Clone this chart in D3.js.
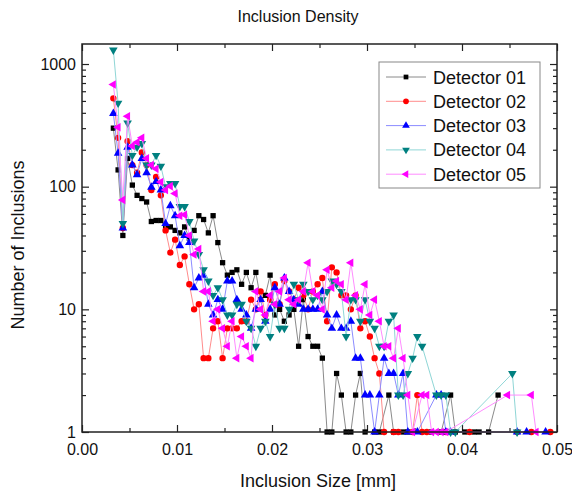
<!DOCTYPE html>
<html><head><meta charset="utf-8">
<script src="https://cdn.jsdelivr.net/npm/d3@7/dist/d3.min.js"></script>
<style>body{margin:0;background:#fff} text{font-family:"Liberation Sans",Arial,sans-serif;fill:#111}</style>
</head><body><svg id="c" width="572" height="491"></svg>
<script>
// ---- data ----
const sizes = [
0.0033,0.0038,0.0043,0.0048,0.0053,0.0058,0.0063,0.0068,0.0073,0.0078,
0.0083,0.0088,0.0093,0.0098,0.0103,0.0108,0.0113,0.0118,0.0123,0.0128,
0.0133,0.0138,0.0143,0.0148,0.0153,0.0158,0.0163,0.0168,0.0173,0.0178,
0.0183,0.0188,0.0193,0.0198,0.0203,0.0208,0.0213,0.0218,0.0223,0.0228,
0.0233,0.0238,0.0243,0.0248,0.0253,0.0258,0.0263,0.0268,0.0273,0.0278,
0.0283,0.0288,0.0293,0.0298,0.0303,0.0308,0.0313,0.0318,0.0323,0.0328,
0.0333,0.0338,0.0343,0.0348,0.0353,0.0358,0.0363,0.0368,0.0373,0.0378,
0.0383,0.0388,0.0393,0.0398,0.0403,0.0408,0.0413,0.0418,0.0423,0.0428,
0.0433,0.0438,0.0443,0.0448,0.0453,0.0458,0.0463,0.0468,0.0473,0.0478,
0.0483,0.0488,0.0493];
const seriesNames = ["Detector 01","Detector 02","Detector 03","Detector 04","Detector 05"];
const det01 = [
300,137,40,170,103,85,80,75,52,53,
53,46,47,44,42,47,38,44,58,54,
42,58,35,24,19,20,21,16,20,15,
20,12,13,19,9,10,8,9,10,5,
12,6,5,5,4,1,1,3,2,1,
1,2,3,1,null,1,1,null,2,1,
null,1,1,null,null,null,null,1,null,1,
null,2,1,null,1,null,1,1,null,1,
null,2,null,null,null,null,null,null,null,null,
null,null,null];
const det02 = [
525,250,46,235,150,130,190,150,94,120,
85,44,29,37,23,27,16,10,11,4,
4,7,8,4,7,7,7,8,8,12,
10,14,9,12,16,11,17,14,12,15,
13,10,14,16,18,8,22,20,13,13,
10,13,7,8,6,4,3,1,null,1,
1,null,null,1,2,1,1,null,null,null,
1,null,null,null,null,1,null,null,null,null,
null,null,null,null,null,1,null,null,1,null,
null,null,1];
const det03 = [
395,187,46,210,150,125,170,130,99,110,
94,50,70,58,33,40,35,15,18,19,
11,9,12,10,17,17,12,10,9,7,
10,12,8,10,15,11,18,14,12,11,
10,10,10,10,14,9,7,9,7,7,
8,4,4,2,2,1,2,4,3,3,
2,3,1,null,1,null,null,null,2,2,
1,1,null,null,null,null,null,null,null,null,
null,null,null,null,null,1,null,1,null,null,
null,1,null];
const det04 = [
1300,480,50,330,180,210,225,150,150,180,
147,100,106,106,69,69,52,36,28,21,
17,13,15,12,9,9,11,11,8,7,
5,7,8,6,11,7,7,10,16,12,
16,14,12,13,12,14,17,16,14,6,
12,12,8,12,8,7,5,5,8,9,
2,2,3,4,6,5,null,null,2,2,
2,1,1,null,null,null,null,null,null,null,
null,null,null,null,3,1,null,null,null,null,
null,null,null];
const det05 = [
680,305,78,375,215,230,250,170,150,140,
109,94,101,88,58,59,40,28,31,14,
14,8,10,7,5,8,4,6,5,4,
14,10,9,13,11,14,18,12,11,12,
14,24,14,13,10,21,15,17,16,12,
24,13,10,16,9,12,8,5,5,4,
7,4,2,1,null,2,2,1,1,1,
1,null,null,null,null,null,null,null,null,null,
null,null,null,2,null,null,null,null,2,1,
null,null,null];
const xTicks = [0,0.01,0.02,0.03,0.04,0.05];
const xTickLabels = ["0.00","0.01","0.02","0.03","0.04","0.05"];
const yTicks = [1,10,100,1000];
const yTickLabels = ["1","10","100","1000"];

const allSeries = [det01,det02,det03,det04,det05];
const markColors = ["#000000","#ff0000","#0000ff","#008080","#ff00ff"];
const lineColors = ["#8a8a8a","#ff8c8c","#8c8cff","#8fd6d6","#ff8cff"];

// ---- layout ----
const svg = d3.select("#c");
const L=82, R=557, T=44, B=432;
const x = d3.scaleLinear().domain([0,0.05]).range([L,R]);
const y = d3.scaleLog().domain([1,1456]).range([B,T]);

svg.append("text").attr("x",298).attr("y",22).attr("text-anchor","middle")
  .style("font-size","16px").text("Inclusion Density");

// minor ticks
const xMinor = d3.range(0,0.0501,0.005).filter(v=>Math.abs(v/0.01-Math.round(v/0.01))>0.1);
const yMinor = [];
[1,10,100,1000].forEach(d=>{for(let m=2;m<=9;m++){const v=d*m; if(v<1456) yMinor.push(v);}});

function styleAxis(g){g.select(".domain").remove(); g.selectAll("line").attr("stroke","#222").attr("stroke-width",1.2);}

svg.append("g").attr("transform",`translate(0,${B})`)
  .call(d3.axisBottom(x).tickValues(xTicks).tickFormat((d,i)=>xTickLabels[i]).tickSizeInner(-7).tickSizeOuter(0).tickPadding(12))
  .call(styleAxis).selectAll("text").style("font-size","16px").attr("font-family","Liberation Sans, Arial, sans-serif").attr("fill","#111");
svg.append("g").attr("transform",`translate(0,${B})`)
  .call(d3.axisBottom(x).tickValues(xMinor).tickFormat("").tickSizeInner(-4).tickSizeOuter(0)).call(styleAxis);
svg.append("g").attr("transform",`translate(0,${T})`)
  .call(d3.axisTop(x).tickValues(xTicks).tickFormat("").tickSizeInner(-7).tickSizeOuter(0)).call(styleAxis);
svg.append("g").attr("transform",`translate(0,${T})`)
  .call(d3.axisTop(x).tickValues(xMinor).tickFormat("").tickSizeInner(-4).tickSizeOuter(0)).call(styleAxis);

svg.append("g").attr("transform",`translate(${L},0)`)
  .call(d3.axisLeft(y).tickValues(yTicks).tickFormat((d,i)=>yTickLabels[i]).tickSizeInner(-7).tickSizeOuter(0).tickPadding(6))
  .call(styleAxis).selectAll("text").style("font-size","16px").attr("font-family","Liberation Sans, Arial, sans-serif").attr("fill","#111");
svg.append("g").attr("transform",`translate(${L},0)`)
  .call(d3.axisLeft(y).tickValues(yMinor).tickFormat("").tickSizeInner(-4).tickSizeOuter(0)).call(styleAxis);
svg.append("g").attr("transform",`translate(${R},0)`)
  .call(d3.axisRight(y).tickValues(yTicks).tickFormat("").tickSizeInner(-7).tickSizeOuter(0)).call(styleAxis);
svg.append("g").attr("transform",`translate(${R},0)`)
  .call(d3.axisRight(y).tickValues(yMinor).tickFormat("").tickSizeInner(-4).tickSizeOuter(0)).call(styleAxis);

svg.append("text").attr("x",318).attr("y",487).attr("text-anchor","middle")
  .style("font-size","18px").text("Inclusion Size [mm]");
svg.append("text").attr("transform","translate(24,245) rotate(-90)").attr("text-anchor","middle")
  .style("font-size","18px").text("Number of Inclusions");

// symbols
const symDefs = [
  {type:d3.symbolSquare, size:28, rot:0},
  {type:d3.symbolCircle, size:32, rot:0},
  {type:d3.symbolTriangle, size:32, rot:0},
  {type:d3.symbolTriangle, size:32, rot:180},
  {type:d3.symbolTriangle, size:32, rot:-90}
];

const plot = svg.append("g");
allSeries.forEach((vals,si)=>{
  const pts = sizes.map((s,i)=>({x:s,v:vals[i]})).filter(p=>p.v!=null && p.v>0);
  const line = d3.line().x(p=>x(p.x)).y(p=>y(p.v));
  plot.append("path").datum(pts).attr("d",line).attr("fill","none")
    .attr("stroke",lineColors[si]).attr("stroke-width",1);
  const sd = symDefs[si];
  plot.selectAll(null).data(pts).enter().append("path")
    .attr("d",d3.symbol().type(sd.type).size(sd.size)())
    .attr("transform",p=>`translate(${x(p.x)},${y(p.v)}) rotate(${sd.rot})`)
    .attr("fill",markColors[si]);
});

// frame
svg.append("rect").attr("x",L).attr("y",T).attr("width",R-L).attr("height",B-T)
  .attr("fill","none").attr("stroke","#222").attr("stroke-width",1.5);

// legend
const lg = svg.append("g");
lg.append("rect").attr("x",379).attr("y",62).attr("width",161).attr("height",126)
  .attr("fill","#fff").attr("stroke","#888").attr("stroke-width",1);
seriesNames.forEach((n,i)=>{
  const yy = 77 + i*24.3;
  lg.append("line").attr("x1",386).attr("x2",426).attr("y1",yy).attr("y2",yy)
    .attr("stroke",lineColors[i]).attr("stroke-width",1);
  const sd = symDefs[i];
  lg.append("path").attr("d",d3.symbol().type(sd.type).size(sd.size*0.8)())
    .attr("transform",`translate(406,${yy}) rotate(${sd.rot})`).attr("fill",markColors[i]);
  lg.append("text").attr("x",433).attr("y",yy+6.5).style("font-size","18px").text(n);
});
</script></body></html>
